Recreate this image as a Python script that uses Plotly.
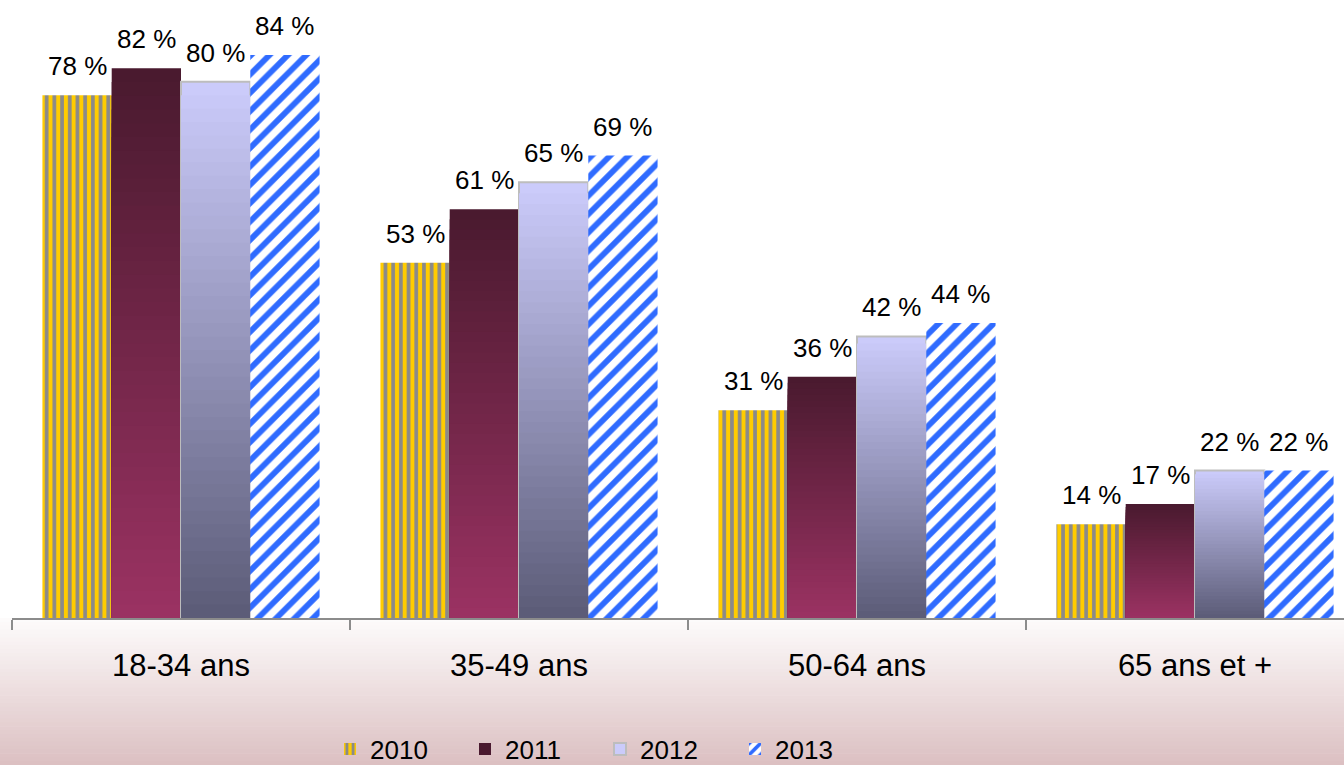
import plotly.graph_objects as go

# ---- data ----
categories = ["18-34 ans", "35-49 ans", "50-64 ans", "65 ans et +"]
years = ["2010", "2011", "2012", "2013"]
v2010 = [78, 53, 31, 14]
v2011 = [82, 61, 36, 17]
v2012 = [80, 65, 42, 22]
v2013 = [84, 69, 44, 22]

FONT = "Liberation Sans, Arial, sans-serif"
BARGAP = 0.18
N = 40  # gradient steps


def hex2rgb(h):
    h = h.lstrip("#")
    return tuple(int(h[i:i + 2], 16) for i in (0, 2, 4))


def lerp(c1, c2, t):
    a, b = hex2rgb(c1), hex2rgb(c2)
    return "rgb(%d,%d,%d)" % tuple(round(a[i] + (b[i] - a[i]) * t) for i in range(3))


fig = go.Figure()

# 2010 : vertical gold/grey stripes
fig.add_trace(go.Bar(
    x=categories, y=v2010, name=years[0], offsetgroup=years[0], legendgroup=years[0],
    marker=dict(color="#ffcc00", line=dict(width=0),
                pattern=dict(shape="|", fgcolor="#8a8a8a", bgcolor="#ffcc00",
                             size=7.7, solidity=0.48, fillmode="replace")),
    hoverinfo="skip"))


def gradient_series(vals, name, top, bottom, outline=None):
    for k in range(N):
        frac = (N - k) / N
        t = k / (N - 1)
        line = dict(width=0)
        if k == 0 and outline:
            line = dict(width=2, color=outline)
        fig.add_trace(go.Bar(
            x=categories, y=[v * frac for v in vals], name=name,
            offsetgroup=name, legendgroup=name, showlegend=(k == 0),
            marker=dict(color=lerp(top, bottom, t), line=line),
            hoverinfo="skip"))


gradient_series(v2011, years[1], "#4a1a2f", "#9a3262")
gradient_series(v2012, years[2], "#cbcbfa", "#5c5c78", outline="#bdbdbd")

# 2013 : diagonal blue stripes on white
fig.add_trace(go.Bar(
    x=categories, y=v2013, name=years[3], offsetgroup=years[3], legendgroup=years[3],
    marker=dict(color="white", line=dict(width=0),
                pattern=dict(shape="/", fgcolor="#2f6bff", bgcolor="white",
                             size=13, solidity=0.45, fillmode="replace")),
    hoverinfo="skip"))

# value labels
series = [v2010, v2011, v2012, v2013]
bw = (1 - BARGAP) / len(series)
for j, vals in enumerate(series):
    for i, v in enumerate(vals):
        fig.add_annotation(x=i + (j - 1.5) * bw, y=v, xref="x", yref="y",
                           text=f"{v} %", showarrow=False, yanchor="bottom",
                           yshift=12, font=dict(size=26, color="black", family=FONT))

# pink gradient background under the axis
shapes = []
S = 40
y_top, y_bot = 0.0, -0.25
for s in range(S):
    y0 = y_top + (y_bot - y_top) * s / S
    y1 = y_top + (y_bot - y_top) * (s + 1) / S - 0.001
    shapes.append(dict(type="rect", xref="paper", yref="paper",
                       x0=-0.02, x1=1.02, y0=y0, y1=y1 if s < S - 1 else y_bot,
                       fillcolor=lerp("#fdfbfb", "#dabdbf", s / (S - 1)),
                       line=dict(width=0), layer="below"))

fig.update_layout(
    width=1344, height=765,
    margin=dict(l=12, r=0, t=0, b=147),
    paper_bgcolor="white", plot_bgcolor="white",
    barmode="group", bargap=BARGAP, bargroupgap=0,
    shapes=shapes,
    showlegend=True,
    legend=dict(orientation="h", xref="container", yref="container",
                x=330 / 1344, y=16 / 765, xanchor="left", yanchor="middle",
                font=dict(size=26, family=FONT, color="black"),
                entrywidth=90, bgcolor="rgba(0,0,0,0)", traceorder="normal"),
    xaxis=dict(type="category", range=[-0.5, -0.5 + 1332 / 338],
               showline=True, linecolor="#8c8c8c", linewidth=1.5,
               ticks="outside", tickson="boundaries", ticklen=10,
               tickcolor="#8c8c8c", tickwidth=1.5,
               tickfont=dict(size=31, family=FONT, color="black"),
               showgrid=False, ticklabelstandoff=19, zeroline=False),
    yaxis=dict(range=[0, 92.2], visible=False, showgrid=False),
    font=dict(family=FONT),
)

fig.write_html("out.html")
